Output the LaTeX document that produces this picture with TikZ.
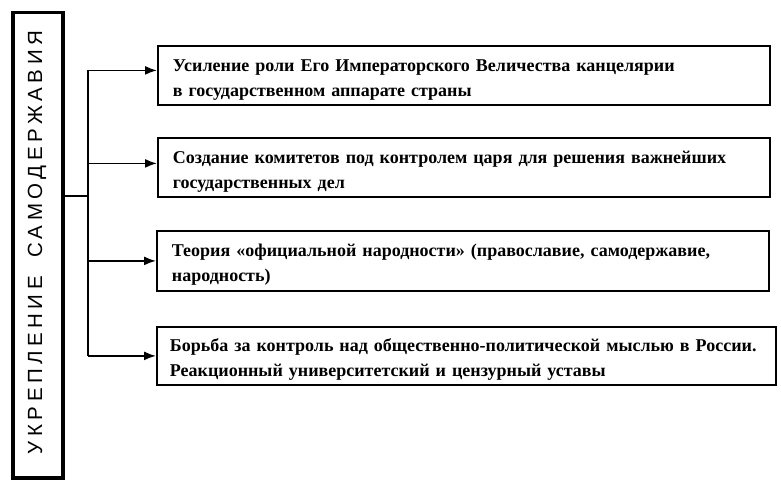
\documentclass[tikz,border=0pt]{standalone}
\usepackage{fontspec}
\setmainfont{Liberation Serif}
\newfontfamily\lsans{Liberation Sans}[LetterSpace=22]
\usetikzlibrary{arrows.meta}
\begin{document}
\begin{tikzpicture}[x=1pt,y=-1pt,
  item/.style={draw, line width=1.8pt, anchor=north west, align=left,
    inner xsep=15pt, inner ysep=0pt, font=\fontsize{18}{25}\selectfont\bfseries,
    execute at begin node={\rule{0pt}{21pt}}},
  arr/.style={line width=1.7pt, -{Latex[length=12pt,width=9pt]}},
  conn/.style={line width=1.7pt}]
\useasboundingbox[fill=white] (0,0) rectangle (781,486);
\node[draw, line width=3.5pt, minimum width=50pt, minimum height=465pt, anchor=north west, inner sep=0pt] (L) at (11,11) {};
\node[rotate=90, font=\lsans\fontsize{20.5}{20}\selectfont] (Lt) at (37,242.5) {УКРЕПЛЕНИЕ\hspace{8pt} САМОДЕРЖАВИЯ};
\node[item, minimum width=612pt, minimum height=59pt, text width=582pt] (b1) at (157,45)
  {Усиление роли Его Императорского Величества канцелярии\\в государственном аппарате страны};
\node[item, minimum width=612pt, minimum height=59pt, text width=582pt] (b2) at (157,137)
  {Создание комитетов под контролем царя для решения важнейших\\государственных дел};
\node[item, minimum width=612pt, minimum height=60pt, text width=582pt] (b3) at (156,230)
  {Теория «официальной народности» (православие, самодержавие,\\народность)};
\node[item, inner xsep=13pt, minimum width=619pt, minimum height=58pt, text width=593pt] (b4) at (156,326)
  {Борьба за контроль над общественно-политической мыслью в России.\\Реакционный университетский и цензурный уставы};
\coordinate (j) at (88,196);
\coordinate (t) at ([yshift=5pt]b1.west -| j);
\coordinate (u) at (b4.west -| j);
\draw[conn] (L.east |- j) -- (j);
\draw[conn] (t) -- (u);
\draw[arr] (t) -- ([yshift=5pt]b1.west);
\draw[arr] ([yshift=4pt]b2.west -| j) -- ([yshift=4pt]b2.west);
\draw[arr] (b3.west -| j) -- (b3.west);
\draw[arr] (u) -- (b4.west);
\end{tikzpicture}
\end{document}
